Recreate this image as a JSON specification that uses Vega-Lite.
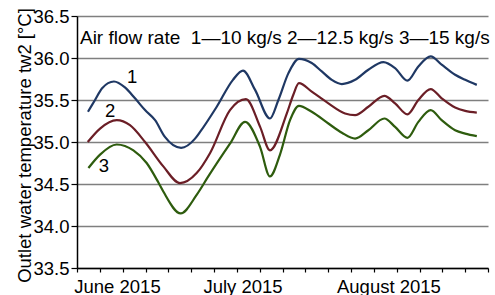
{
  "$schema": "https://vega.github.io/schema/vega-lite/v6.json",
  "width": 411,
  "height": 252,
  "autosize": "none",
  "padding": {"left": 77, "top": 16, "right": 7, "bottom": 27},
  "config": {
    "view": {"stroke": null},
    "font": "Liberation Sans",
    "axis": {"labelFont": "Liberation Sans", "titleFont": "Liberation Sans", "labelColor": "black", "titleColor": "black", "titleFontWeight": "normal"}
  },
  "datasets": {
    "series": [
      {"rate": "1", "t": 0.48, "v": 35.36}, {"rate": "1", "t": 0.79, "v": 35.50}, {"rate": "1", "t": 1.10, "v": 35.64}, {"rate": "1", "t": 1.62, "v": 35.72}, {"rate": "1", "t": 2.10, "v": 35.65}, {"rate": "1", "t": 2.54, "v": 35.52}, {"rate": "1", "t": 2.98, "v": 35.38}, {"rate": "1", "t": 3.42, "v": 35.26}, {"rate": "1", "t": 3.85, "v": 35.06}, {"rate": "1", "t": 4.56, "v": 34.93}, {"rate": "1", "t": 5.17, "v": 35.04}, {"rate": "1", "t": 5.39, "v": 35.12}, {"rate": "1", "t": 6.12, "v": 35.42}, {"rate": "1", "t": 6.83, "v": 35.74}, {"rate": "1", "t": 7.27, "v": 35.85}, {"rate": "1", "t": 7.80, "v": 35.62}, {"rate": "1", "t": 8.45, "v": 35.28}, {"rate": "1", "t": 8.82, "v": 35.50}, {"rate": "1", "t": 9.26, "v": 35.82}, {"rate": "1", "t": 9.72, "v": 35.99}, {"rate": "1", "t": 10.28, "v": 35.94}, {"rate": "1", "t": 10.72, "v": 35.84}, {"rate": "1", "t": 11.16, "v": 35.74}, {"rate": "1", "t": 11.60, "v": 35.69}, {"rate": "1", "t": 12.18, "v": 35.74}, {"rate": "1", "t": 12.76, "v": 35.86}, {"rate": "1", "t": 13.42, "v": 35.95}, {"rate": "1", "t": 13.93, "v": 35.88}, {"rate": "1", "t": 14.47, "v": 35.73}, {"rate": "1", "t": 14.95, "v": 35.90}, {"rate": "1", "t": 15.49, "v": 36.02}, {"rate": "1", "t": 15.97, "v": 35.92}, {"rate": "1", "t": 16.56, "v": 35.80}, {"rate": "1", "t": 17.00, "v": 35.74}, {"rate": "1", "t": 17.51, "v": 35.68},
      {"rate": "2", "t": 0.47, "v": 35.00}, {"rate": "2", "t": 1.01, "v": 35.16}, {"rate": "2", "t": 1.74, "v": 35.26}, {"rate": "2", "t": 2.32, "v": 35.20}, {"rate": "2", "t": 2.98, "v": 35.00}, {"rate": "2", "t": 3.78, "v": 34.71}, {"rate": "2", "t": 4.51, "v": 34.51}, {"rate": "2", "t": 5.24, "v": 34.63}, {"rate": "2", "t": 5.83, "v": 34.87}, {"rate": "2", "t": 6.70, "v": 35.38}, {"rate": "2", "t": 7.40, "v": 35.51}, {"rate": "2", "t": 8.02, "v": 35.18}, {"rate": "2", "t": 8.45, "v": 34.90}, {"rate": "2", "t": 9.19, "v": 35.34}, {"rate": "2", "t": 9.47, "v": 35.56}, {"rate": "2", "t": 9.72, "v": 35.70}, {"rate": "2", "t": 10.28, "v": 35.60}, {"rate": "2", "t": 11.01, "v": 35.46}, {"rate": "2", "t": 11.74, "v": 35.34}, {"rate": "2", "t": 12.18, "v": 35.32}, {"rate": "2", "t": 12.76, "v": 35.42}, {"rate": "2", "t": 13.46, "v": 35.55}, {"rate": "2", "t": 13.93, "v": 35.46}, {"rate": "2", "t": 14.47, "v": 35.33}, {"rate": "2", "t": 14.95, "v": 35.50}, {"rate": "2", "t": 15.49, "v": 35.63}, {"rate": "2", "t": 15.97, "v": 35.52}, {"rate": "2", "t": 16.56, "v": 35.41}, {"rate": "2", "t": 17.00, "v": 35.37}, {"rate": "2", "t": 17.51, "v": 35.35},
      {"rate": "3", "t": 0.50, "v": 34.69}, {"rate": "3", "t": 1.01, "v": 34.85}, {"rate": "3", "t": 1.74, "v": 34.97}, {"rate": "3", "t": 2.47, "v": 34.90}, {"rate": "3", "t": 3.05, "v": 34.75}, {"rate": "3", "t": 3.56, "v": 34.52}, {"rate": "3", "t": 3.78, "v": 34.41}, {"rate": "3", "t": 4.54, "v": 34.15}, {"rate": "3", "t": 5.24, "v": 34.37}, {"rate": "3", "t": 5.75, "v": 34.59}, {"rate": "3", "t": 6.70, "v": 34.98}, {"rate": "3", "t": 7.36, "v": 35.24}, {"rate": "3", "t": 8.02, "v": 34.94}, {"rate": "3", "t": 8.45, "v": 34.59}, {"rate": "3", "t": 8.89, "v": 34.85}, {"rate": "3", "t": 9.33, "v": 35.26}, {"rate": "3", "t": 9.72, "v": 35.43}, {"rate": "3", "t": 10.28, "v": 35.36}, {"rate": "3", "t": 11.01, "v": 35.22}, {"rate": "3", "t": 11.60, "v": 35.11}, {"rate": "3", "t": 12.18, "v": 35.04}, {"rate": "3", "t": 12.76, "v": 35.14}, {"rate": "3", "t": 13.46, "v": 35.28}, {"rate": "3", "t": 13.93, "v": 35.18}, {"rate": "3", "t": 14.47, "v": 35.05}, {"rate": "3", "t": 14.95, "v": 35.24}, {"rate": "3", "t": 15.49, "v": 35.38}, {"rate": "3", "t": 15.97, "v": 35.26}, {"rate": "3", "t": 16.56, "v": 35.14}, {"rate": "3", "t": 17.00, "v": 35.10}, {"rate": "3", "t": 17.51, "v": 35.07}
    ],
    "numbers": [
      {"label": "1", "t": 2.41, "v": 35.77},
      {"label": "2", "t": 1.45, "v": 35.37},
      {"label": "3", "t": 1.18, "v": 34.71}
    ],
    "legendText": [
      {"label": "Air flow rate\u00a0 1—10 kg/s 2—12.5 kg/s 3—15 kg/s", "t": 0.13, "v": 36.167}
    ]
  },
  "layer": [
    {
      "data": {"name": "series"},
      "mark": {"type": "line", "interpolate": "monotone", "strokeWidth": 2.2},
      "encoding": {
        "x": {
          "field": "t", "type": "quantitative",
          "scale": {"domain": [0, 18], "nice": false, "zero": false},
          "axis": {"orient": "bottom", "values": [0,1,2,3,4,5,6,7,8,9,10,11,12,13,14,15,16,17,18], "labels": false, "tickSize": 4, "tickColor": "black", "tickWidth": 1.2, "domainColor": "black", "domainWidth": 1.5, "grid": false, "title": null}
        },
        "y": {
          "field": "v", "type": "quantitative",
          "scale": {"domain": [33.5, 36.5], "nice": false, "zero": false},
          "axis": {"values": [33.5, 34, 34.5, 35, 35.5, 36, 36.5], "grid": true, "gridColor": "#7f7f7f", "gridWidth": 1.6, "domainColor": "black", "domainWidth": 1.5, "tickColor": "black", "tickSize": 6, "tickWidth": 1.2, "labelFontSize": 18.5, "labelPadding": 2, "title": "Outlet water temperature tw2 [°C]", "titleFontSize": 18.5, "titlePadding": -2, "titleY": 129}
        },
        "color": {"field": "rate", "type": "nominal", "scale": {"domain": ["1", "2", "3"], "range": ["#1f3864", "#6b1e26", "#2e5c0e"]}, "legend": null}
      }
    },
    {
      "data": {"name": "numbers"},
      "mark": {"type": "text", "fontSize": 18.5, "align": "center", "baseline": "middle", "color": "black"},
      "encoding": {
        "x": {
          "field": "t", "type": "quantitative",
          "axis": {"orient": "bottom", "values": [1.75, 7.25, 13.64], "labelExpr": "datum.value < 4 ? 'June 2015' : datum.value < 10 ? 'July 2015' : 'August 2015'", "ticks": false, "tickSize": 0, "domain": false, "grid": false, "labelFontSize": 18.5, "labelPadding": 9, "title": null}
        },
        "y": {"field": "v", "type": "quantitative"},
        "text": {"field": "label"}
      }
    },
    {
      "data": {"name": "legendText"},
      "mark": {"type": "text", "fontSize": 19, "align": "left", "baseline": "alphabetic", "color": "black"},
      "encoding": {
        "x": {"field": "t", "type": "quantitative", "axis": null},
        "y": {"field": "v", "type": "quantitative"},
        "text": {"field": "label"}
      }
    }
  ],
  "resolve": {"axis": {"x": "independent"}}
}
